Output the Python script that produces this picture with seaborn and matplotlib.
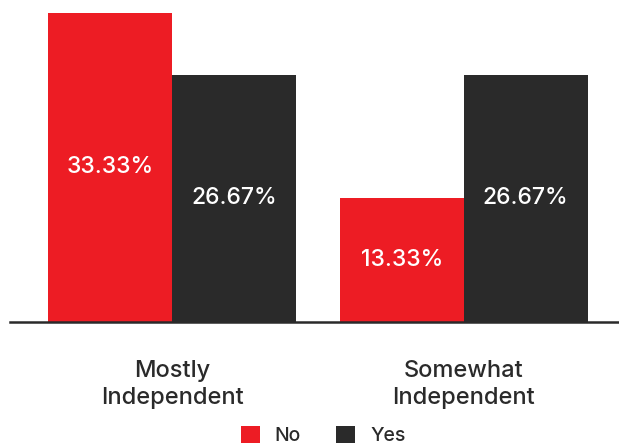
import matplotlib
matplotlib.use("Agg")
import matplotlib.pyplot as plt
import seaborn as sns
import pandas as pd

# Survey shares by independence level and answer
categories = ["Mostly\nIndependent", "Somewhat\nIndependent"]
answers = ["No", "Yes"]
no_values = [33.33, 13.33]
yes_values = [26.67, 26.67]

colors = {"No": "#ed1c24", "Yes": "#2a2a2a"}
text_dark = "#2a2a2a"

df = pd.DataFrame({
    "category": categories * 2,
    "answer": ["No"] * len(categories) + ["Yes"] * len(categories),
    "value": no_values + yes_values,
})

sns.set_theme(style="white")
plt.rcParams["font.family"] = ["Inter", "DejaVu Sans"]
plt.rcParams["font.weight"] = 500

fig = plt.figure(figsize=(6.19, 4.48), dpi=100)
ax = fig.add_axes([10 / 619, (448 - 322) / 448, 609 / 619, 322 / 448])

sns.barplot(data=df, x="category", y="value", hue="answer",
            hue_order=answers, order=categories, palette=colors,
            width=0.85, saturation=1, linewidth=0, ax=ax)

ax.set_xlim(-0.556, 1.533)
ax.set_ylim(0, 34.73)

# value labels centred inside each bar
for container in ax.containers:
    for bar in container:
        h = bar.get_height()
        ax.text(bar.get_x() + bar.get_width() / 2, h / 2, f"{h:.2f}%",
                ha="center", va="center", color="white", fontsize=16.5,
                fontweight=500)

for side in ["top", "right", "left"]:
    ax.spines[side].set_visible(False)
ax.spines["bottom"].set_color(text_dark)
ax.spines["bottom"].set_linewidth(1.8)
ax.set_yticks([])
ax.set_xlabel("")
ax.set_ylabel("")
ax.tick_params(axis="x", length=0, pad=27, labelsize=17, labelcolor=text_dark)
for lbl in ax.get_xticklabels():
    lbl.set_linespacing(1.32)
    lbl.set_fontweight(500)

handles, labels = ax.get_legend_handles_labels()
ax.get_legend().remove()
leg = fig.legend(handles, labels, loc="center", bbox_to_anchor=(0.522, 0.028),
                 ncol=2, frameon=False, handlelength=1.0,
                 handleheight=1.0, handletextpad=0.75, columnspacing=1.8,
                 labelcolor=text_dark, prop={"weight": 500, "size": 14})

fig.savefig("out.png", dpi=100)
